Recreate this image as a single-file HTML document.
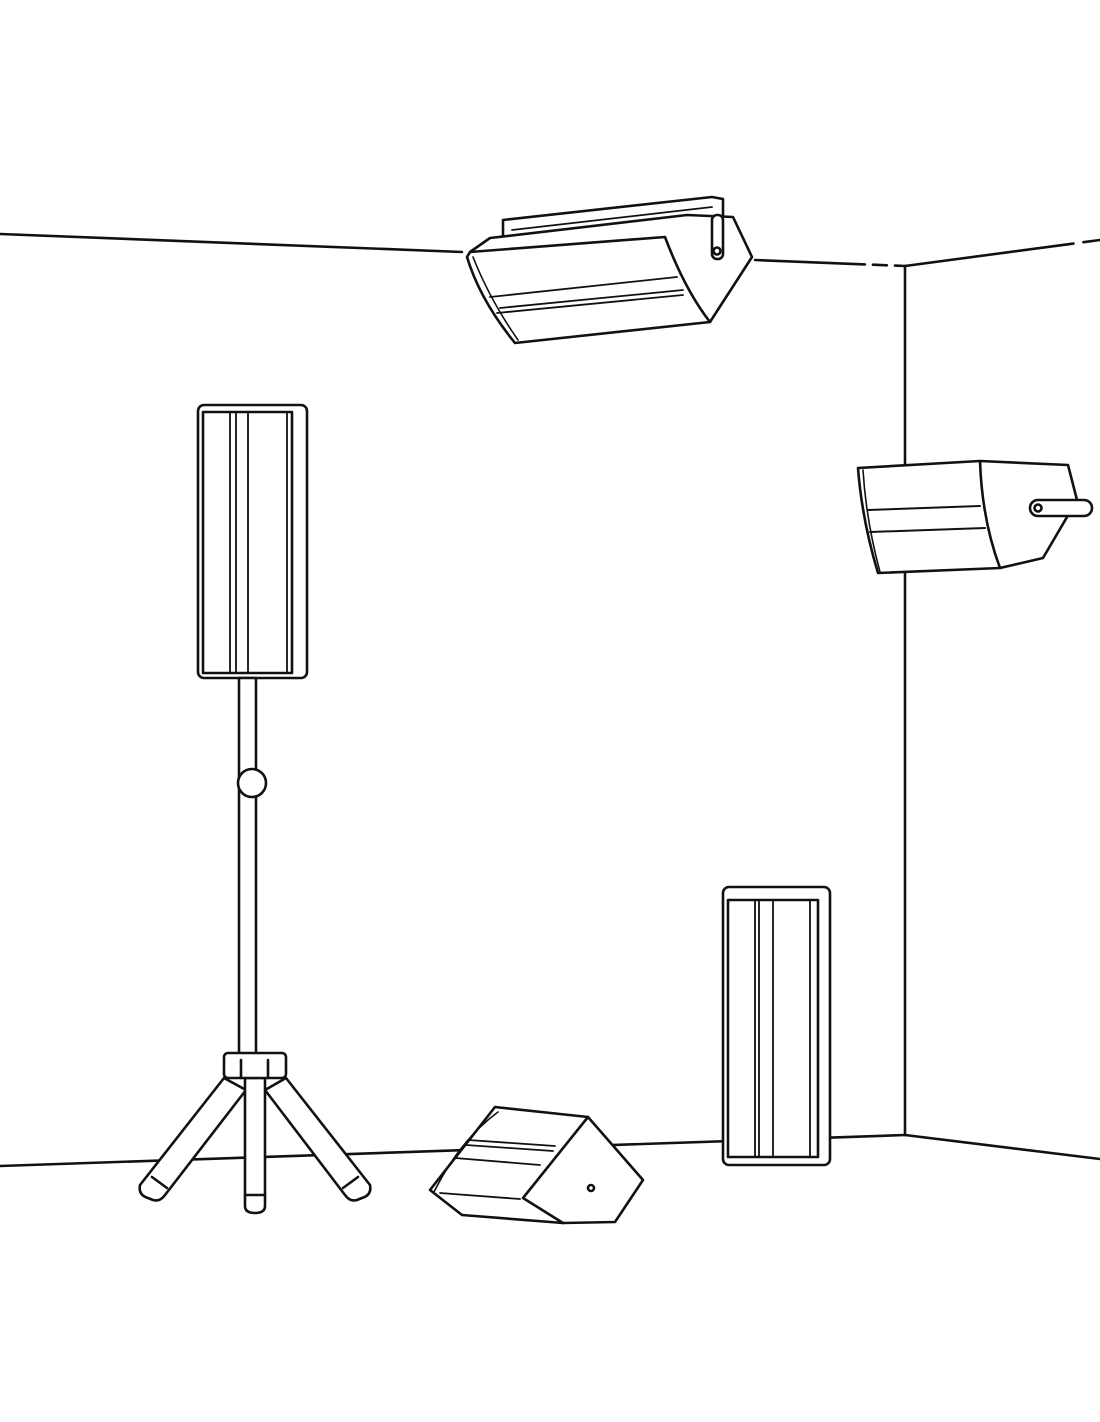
<!DOCTYPE html>
<html><head><meta charset="utf-8"><style>html,body{margin:0;padding:0;background:#fff}svg{display:block}</style></head><body>
<svg width="1100" height="1422" viewBox="0 0 1100 1422" xmlns="http://www.w3.org/2000/svg" fill="#fff" stroke="#111" stroke-width="2.6" stroke-linejoin="round" stroke-linecap="round">
<!-- walls -->
<line x1="0" y1="234" x2="462" y2="252"/>
<line x1="755" y1="260" x2="905" y2="266" stroke-dasharray="110 8 14 8"/>
<line x1="905" y1="266" x2="1100" y2="240" stroke-dasharray="170 10 20"/>
<line x1="905" y1="266" x2="905" y2="1135"/>
<line x1="0" y1="1166" x2="905" y2="1135"/>
<line x1="905" y1="1135" x2="1100" y2="1159"/>
<!-- top speaker -->
<path d="M503 242 L503 220 L712 197 L723 199 L723 257" fill="none"/>
<path d="M512 230 L712 207" fill="none" stroke-width="1.8"/>
<path d="M470 252 L490 238 L687 215 L733 217 L752 257 L710 322 L515 343 Q480 300 467 257 Z"/>
<path d="M470 252 L665 237 Q685 290 710 322" fill="none"/>
<path d="M473 257 Q490 300 518 340" fill="none" stroke-width="1.6"/>
<path d="M490 297 L677 277 M497 313 L683 295 M500 308 L683 290" fill="none" stroke-width="1.8"/>
<rect x="712" y="215" width="11" height="44" rx="5"/>
<circle cx="717" cy="251" r="3.5"/>
<!-- right wall speaker -->
<path d="M858 468 L980 461 L1068 465 L1077 500 L1043 558 L1000 568 L878 573 Q862 520 858 468 Z"/>
<path d="M980 461 Q982 520 1000 568" fill="none"/>
<path d="M863 470 Q866 520 880 572" fill="none" stroke-width="1.6"/>
<path d="M868 510 L980 506 M870 532 L985 528" fill="none" stroke-width="2"/>
<rect x="1030" y="500" width="62" height="16" rx="8"/>
<circle cx="1038" cy="508" r="3.5"/>
<!-- stand speaker -->
<rect x="198" y="405" width="109" height="273" rx="6"/>
<rect x="203" y="412" width="89" height="261"/>
<path d="M230 412 V673 M236 412 V673 M248 412 V673 M287 412 V673" fill="none" stroke-width="1.8"/>
<!-- pole -->
<rect x="239" y="678" width="17" height="380"/>
<circle cx="252" cy="783" r="14"/>
<!-- legs -->
<path d="M224 1078 L140 1185 Q138 1195 148 1198 L153 1200 Q160 1202 165 1195 L246 1090 Z"/>
<path d="M152 1177 L167 1188" fill="none"/>
<path d="M286 1078 L370 1185 Q372 1195 362 1198 L357 1200 Q350 1202 345 1195 L265 1090 Z"/>
<path d="M358 1177 L343 1188" fill="none"/>
<path d="M245 1078 V1206 Q245 1213 255 1213 Q265 1213 265 1206 V1078 Z"/>
<path d="M245 1195 H265" fill="none"/>
<rect x="224" y="1053" width="62" height="25" rx="4"/>
<path d="M241 1060 V1078 M268 1060 V1078" fill="none"/>
<!-- bottom monitor -->
<path d="M430 1190 L495 1107 L588 1117 L643 1180 L615 1222 L563 1223 L462 1215 Z"/>
<path d="M588 1117 L523 1198 L563 1223" fill="none"/>
<path d="M434 1192 Q460 1140 498 1112" fill="none" stroke-width="1.6"/>
<path d="M468 1140 L555 1146 M466 1145 L553 1151 M455 1158 L540 1165 M440 1193 L520 1199" fill="none" stroke-width="1.8"/>
<circle cx="591" cy="1188" r="3"/>
<!-- floor speaker -->
<rect x="723" y="887" width="107" height="278" rx="6"/>
<rect x="728" y="900" width="90" height="257"/>
<path d="M755 900 V1157 M759 900 V1157 M773 900 V1157 M810 900 V1157" fill="none" stroke-width="1.8"/>
</svg>
</body></html>
